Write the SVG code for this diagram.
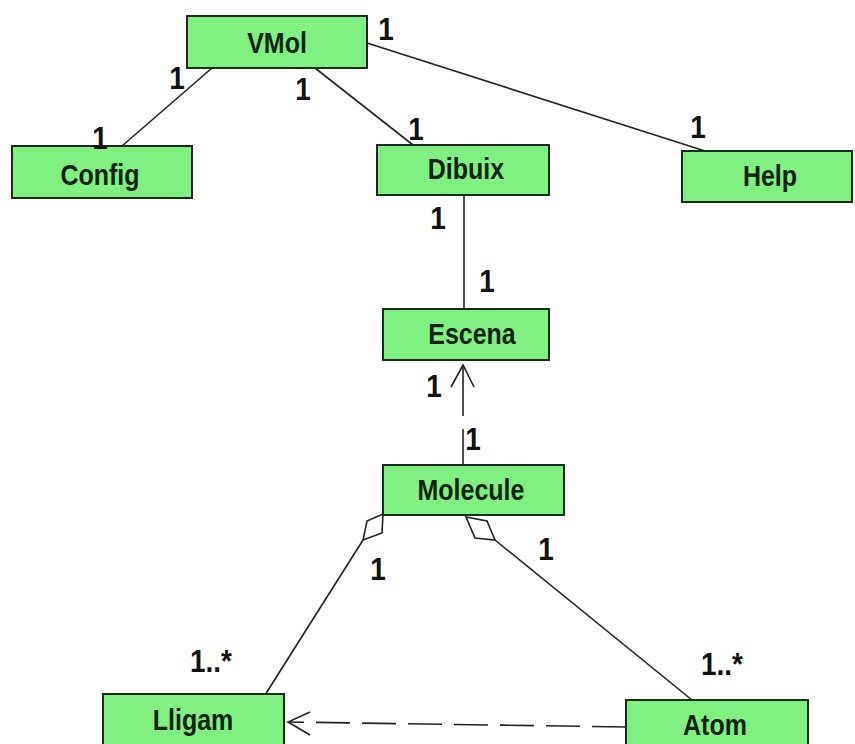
<svg xmlns="http://www.w3.org/2000/svg" width="855" height="744" viewBox="0 0 855 744">
  <style>
    .cls rect { fill: #80f080; stroke: #1c2c1c; stroke-width: 2; }
    .cls text { font-family: "Liberation Sans", Arial, sans-serif; font-weight: bold; font-size: 25px; fill: #102410; text-anchor: middle; }
    .mult { font-family: "Liberation Sans", Arial, sans-serif; font-weight: bold; font-size: 28px; fill: #111; text-anchor: middle; }
    .edge { stroke: #222; stroke-width: 1.6; fill: none; }
    .dep { stroke-dasharray: 34 12; }
    .diamond { fill: #fff; stroke: #222; stroke-width: 1.6; }
  </style>
  <rect width="855" height="744" fill="#fff"/>

  <!-- associations, dependencies and aggregations -->
  <g id="connectors">
    <path class="edge" d="M212,68 L122,146"/>
    <path class="edge" d="M315,68 L413,145"/>
    <path class="edge" d="M367,43 L705,151"/>
    <path class="edge" d="M464,195 L464,309"/>
    <!-- Molecule depends on Escena -->
    <path class="edge" d="M463,465 L463,429 M463,416 L463,366"/>
    <path class="edge" d="M451,387 L463,365 L474,387"/>
    <!-- Molecule aggregates Lligam -->
    <path class="edge" d="M363,540 L265,695"/>
    <path class="diamond" d="M383,514 L367,521 L363,540 L382,533 Z"/>
    <!-- Molecule aggregates Atom -->
    <path class="edge" d="M495,540 L692,700"/>
    <path class="diamond" d="M466,517 L487,521 L495,540 L475,538 Z"/>
    <!-- Atom depends on Lligam -->
    <path class="edge dep" d="M626,727 L289,722"/>
    <path class="edge" d="M310,712 L288,722 L310,735"/>
  </g>

  <g id="vmol" class="cls">
    <rect x="187" y="16" width="180" height="52"/>
    <text transform="translate(277,53) scale(1,1.18)">VMol</text>
  </g>
  <g id="config" class="cls">
    <rect x="12" y="146" width="180" height="52"/>
    <text transform="translate(100,185) scale(1,1.18)">Config</text>
  </g>
  <g id="dibuix" class="cls">
    <rect x="377" y="145" width="172" height="50"/>
    <text transform="translate(466,179) scale(1,1.18)">Dibuix</text>
  </g>
  <g id="help" class="cls">
    <rect x="682" y="151" width="170" height="51"/>
    <text transform="translate(770,186) scale(1,1.18)">Help</text>
  </g>
  <g id="escena" class="cls">
    <rect x="383" y="309" width="166" height="51"/>
    <text transform="translate(472,344) scale(1,1.18)">Escena</text>
  </g>
  <g id="molecule" class="cls">
    <rect x="383" y="465" width="181" height="50"/>
    <text transform="translate(471,500) scale(1,1.18)">Molecule</text>
  </g>
  <g id="lligam" class="cls">
    <rect x="103" y="694" width="181" height="60"/>
    <text transform="translate(193,730) scale(1,1.18)">Lligam</text>
  </g>
  <g id="atom" class="cls">
    <rect x="626" y="700" width="182" height="60"/>
    <text transform="translate(715,735) scale(1,1.18)">Atom</text>
  </g>

  <!-- multiplicities -->
  <g id="multiplicities">
    <text class="mult" transform="translate(386,40) scale(1,1.12)">1</text>
    <text class="mult" transform="translate(177,89) scale(1,1.12)">1</text>
    <text class="mult" transform="translate(100,149) scale(1,1.12)">1</text>
    <text class="mult" transform="translate(303,100) scale(1,1.12)">1</text>
    <text class="mult" transform="translate(416,140) scale(1,1.12)">1</text>
    <text class="mult" transform="translate(698,138) scale(1,1.12)">1</text>
    <text class="mult" transform="translate(438,229) scale(1,1.12)">1</text>
    <text class="mult" transform="translate(487,292) scale(1,1.12)">1</text>
    <text class="mult" transform="translate(434,397) scale(1,1.12)">1</text>
    <text class="mult" transform="translate(473,450) scale(1,1.12)">1</text>
    <text class="mult" transform="translate(378,580) scale(1,1.12)">1</text>
    <text class="mult" transform="translate(546,560) scale(1,1.12)">1</text>
    <text class="mult" transform="translate(211,672) scale(1,1.12)">1..*</text>
    <text class="mult" transform="translate(722,675) scale(1,1.12)">1..*</text>
  </g>
</svg>
